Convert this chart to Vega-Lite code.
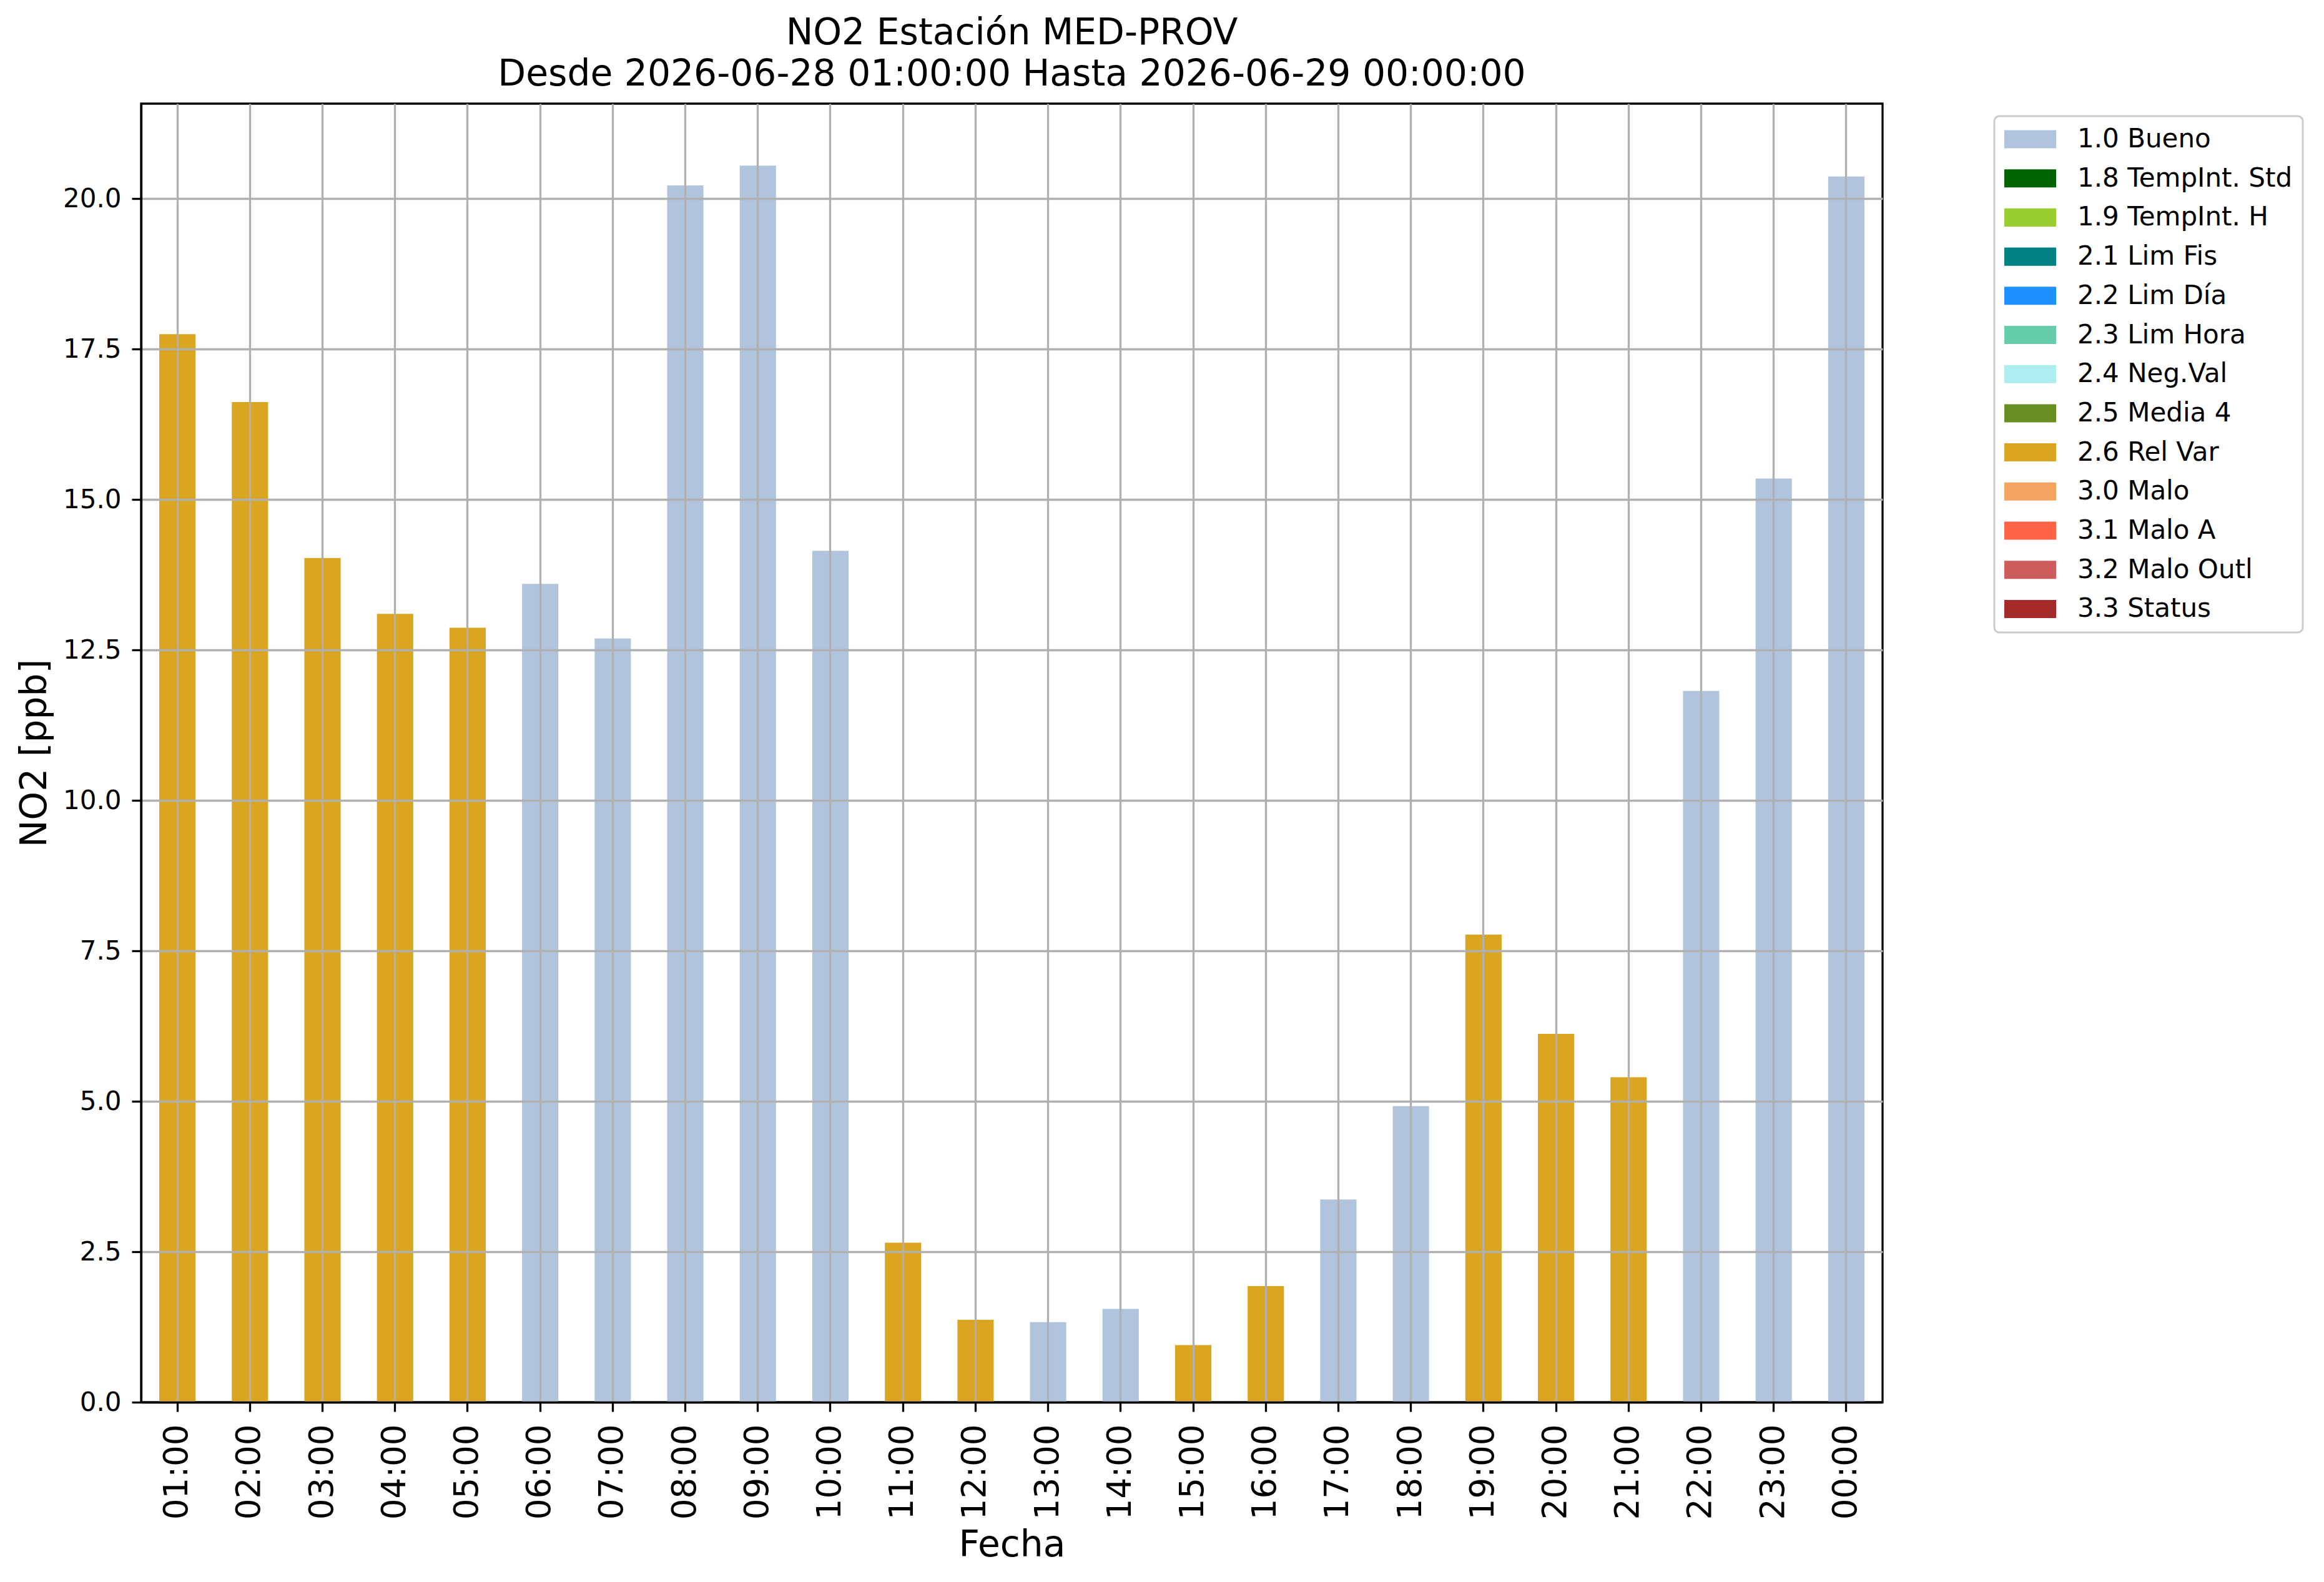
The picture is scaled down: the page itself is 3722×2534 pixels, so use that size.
{
  "$schema": "https://vega.github.io/schema/vega-lite/v6.json",
  "width": 2789,
  "height": 2080,
  "autosize": "none",
  "padding": {"left": 226, "top": 166, "right": 707, "bottom": 288},
  "background": "white",
  "title": {
    "text": ["NO2 Estación MED-PROV", "Desde 2026-06-28 01:00:00 Hasta 2026-06-29 00:00:00"],
    "fontSize": 58.3,
    "fontWeight": "normal",
    "color": "black",
    "anchor": "middle",
    "frame": "group",
    "baseline": "alphabetic",
    "lineHeight": 66,
    "offset": -29
  },
  "data": {
    "values": [
      {"hora": "01:00", "no2": 17.75, "flag": "2.6 Rel Var"},
      {"hora": "02:00", "no2": 16.62, "flag": "2.6 Rel Var"},
      {"hora": "03:00", "no2": 14.03, "flag": "2.6 Rel Var"},
      {"hora": "04:00", "no2": 13.1, "flag": "2.6 Rel Var"},
      {"hora": "05:00", "no2": 12.87, "flag": "2.6 Rel Var"},
      {"hora": "06:00", "no2": 13.6, "flag": "1.0 Bueno"},
      {"hora": "07:00", "no2": 12.69, "flag": "1.0 Bueno"},
      {"hora": "08:00", "no2": 20.22, "flag": "1.0 Bueno"},
      {"hora": "09:00", "no2": 20.55, "flag": "1.0 Bueno"},
      {"hora": "10:00", "no2": 14.15, "flag": "1.0 Bueno"},
      {"hora": "11:00", "no2": 2.65, "flag": "2.6 Rel Var"},
      {"hora": "12:00", "no2": 1.37, "flag": "2.6 Rel Var"},
      {"hora": "13:00", "no2": 1.33, "flag": "1.0 Bueno"},
      {"hora": "14:00", "no2": 1.55, "flag": "1.0 Bueno"},
      {"hora": "15:00", "no2": 0.95, "flag": "2.6 Rel Var"},
      {"hora": "16:00", "no2": 1.93, "flag": "2.6 Rel Var"},
      {"hora": "17:00", "no2": 3.37, "flag": "1.0 Bueno"},
      {"hora": "18:00", "no2": 4.92, "flag": "1.0 Bueno"},
      {"hora": "19:00", "no2": 7.77, "flag": "2.6 Rel Var"},
      {"hora": "20:00", "no2": 6.12, "flag": "2.6 Rel Var"},
      {"hora": "21:00", "no2": 5.4, "flag": "2.6 Rel Var"},
      {"hora": "22:00", "no2": 11.82, "flag": "1.0 Bueno"},
      {"hora": "23:00", "no2": 15.35, "flag": "1.0 Bueno"},
      {"hora": "00:00", "no2": 20.37, "flag": "1.0 Bueno"}
    ]
  },
  "mark": {"type": "bar"},
  "encoding": {
    "x": {
      "field": "hora",
      "type": "ordinal",
      "sort": null,
      "scale": {"paddingInner": 0.5, "paddingOuter": 0.25},
      "axis": {
        "title": "Fecha",
        "titleFontSize": 58.3,
        "titleFontWeight": "normal",
        "titleBaseline": "alphabetic",
        "titleY": 246,
        "labelAngle": -90,
        "labelFontSize": 53,
        "labelPadding": 20,
        "bandPosition": 0.5,
        "grid": true,
        "zindex": 1
      }
    },
    "y": {
      "field": "no2",
      "type": "quantitative",
      "scale": {"domain": [0, 21.58], "nice": false, "zero": true},
      "axis": {
        "title": "NO2 [ppb]",
        "titleFontSize": 58.3,
        "titleFontWeight": "normal",
        "titleBaseline": "alphabetic",
        "titleAngle": -90,
        "titleX": -153,
        "titleY": 1040,
        "values": [0, 2.5, 5, 7.5, 10, 12.5, 15, 17.5, 20],
        "format": ".1f",
        "labelFontSize": 42,
        "labelPadding": 17,
        "grid": true,
        "zindex": 1
      }
    },
    "color": {
      "field": "flag",
      "type": "nominal",
      "scale": {
        "domain": ["1.0 Bueno", "1.8 TempInt. Std", "1.9 TempInt. H", "2.1 Lim Fis", "2.2 Lim Día", "2.3 Lim Hora", "2.4 Neg.Val", "2.5 Media 4", "2.6 Rel Var", "3.0 Malo", "3.1 Malo A", "3.2 Malo Outl", "3.3 Status"],
        "range": ["#b0c4de", "#006400", "#9acd32", "#008080", "#1e90ff", "#66cdaa", "#afeeee", "#6b8e23", "#daa520", "#f4a460", "#ff6347", "#cd5c5c", "#a52a2a"]
      },
      "legend": {
        "title": null,
        "orient": "none",
        "legendX": 2968,
        "legendY": 20,
        "padding": 16,
        "strokeColor": "#cccccc",
        "cornerRadius": 8,
        "fillColor": "white",
        "symbolType": "M-1,-0.35L1,-0.35L1,0.35L-1,0.35Z",
        "symbolSize": 6889,
        "symbolStrokeWidth": 0,
        "symbolOpacity": 1,
        "clipHeight": 42,
        "rowPadding": 20.7,
        "labelOffset": 34,
        "labelFontSize": 42,
        "labelColor": "black",
        "labelLimit": 800,
        "encode": {"legend": {"update": {"strokeWidth": {"value": 3}}}}
      }
    }
  },
  "config": {
    "font": "DejaVu Sans",
    "view": {"stroke": "black", "strokeWidth": 3.3},
    "bar": {"opacity": 1},
    "axis": {
      "gridColor": "#b0b0b0",
      "gridWidth": 3.3,
      "gridOpacity": 1,
      "domainColor": "black",
      "domainWidth": 3.3,
      "tickColor": "black",
      "tickWidth": 3.3,
      "tickSize": 15,
      "labelColor": "black",
      "titleColor": "black"
    }
  }
}
